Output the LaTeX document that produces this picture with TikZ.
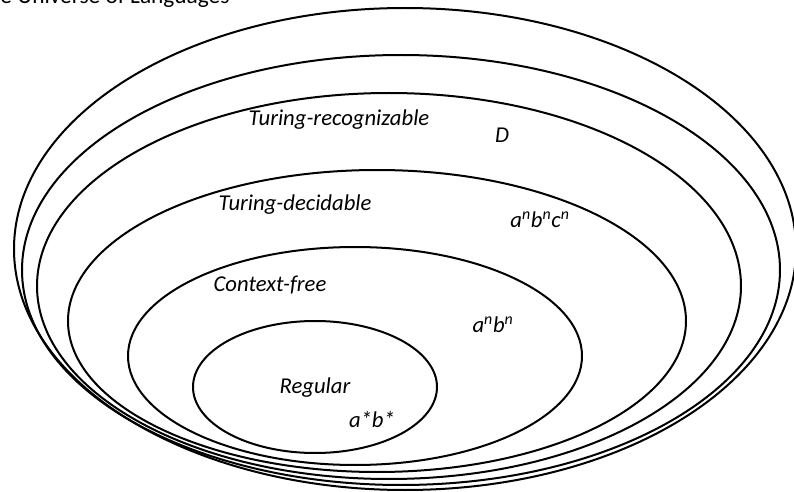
\documentclass[tikz,border=0pt]{standalone}
\usepackage{fontspec}
\setmainfont{Carlito}
\usetikzlibrary{shapes.geometric}
\begin{document}
\begin{tikzpicture}[x=0.75pt,y=-0.75pt,
  langset/.style={ellipse, draw, line width=1.5pt, inner sep=0pt, outer sep=0pt},
  lbl/.style={font=\fontsize{17}{20}\selectfont\itshape, inner sep=0pt}]
\useasboundingbox (0,0) rectangle (794,492);
\clip (0,0) rectangle (794,492);
\node[langset, minimum width=586.5pt, minimum height=361.5pt] (univ) at (405,249) {};
\node[langset, minimum width=568.5pt, minimum height=322.5pt] (other) at (401,270) {};
\node[langset, minimum width=528pt, minimum height=289.5pt] (trec) at (389,286) {};
\node[langset, minimum width=463.5pt, minimum height=226.5pt] (tdec) at (377,321) {};
\node[langset, minimum width=340.5pt, minimum height=163.5pt] (cfree) at (355,356) {};
\node[langset, minimum width=183pt, minimum height=99pt] (reg) at (315,387) {};
\node[font=\fontsize{17.5}{20}\selectfont, anchor=base west, inner sep=0pt] (title) at (-23.5,4) {The Universe of Languages};
\node[lbl] (treclbl) at (339,120) {Turing-recognizable};
\node[lbl] (dlbl) at (502,135) {D};
\node[lbl] (tdeclbl) at (295,205) {Turing-decidable};
\node[lbl] (abclbl) at (540,220) {a\textsuperscript{n}b\textsuperscript{n}c\textsuperscript{n}};
\node[lbl] (cflbl) at (270,285) {Context-free};
\node[lbl] (ablbl) at (493,325) {a\textsuperscript{n}b\textsuperscript{n}};
\node[lbl] (reglbl) at (315,388) {Regular};
\node[lbl] (starlbl) at (372,420) {a*b*};
\end{tikzpicture}
\end{document}
